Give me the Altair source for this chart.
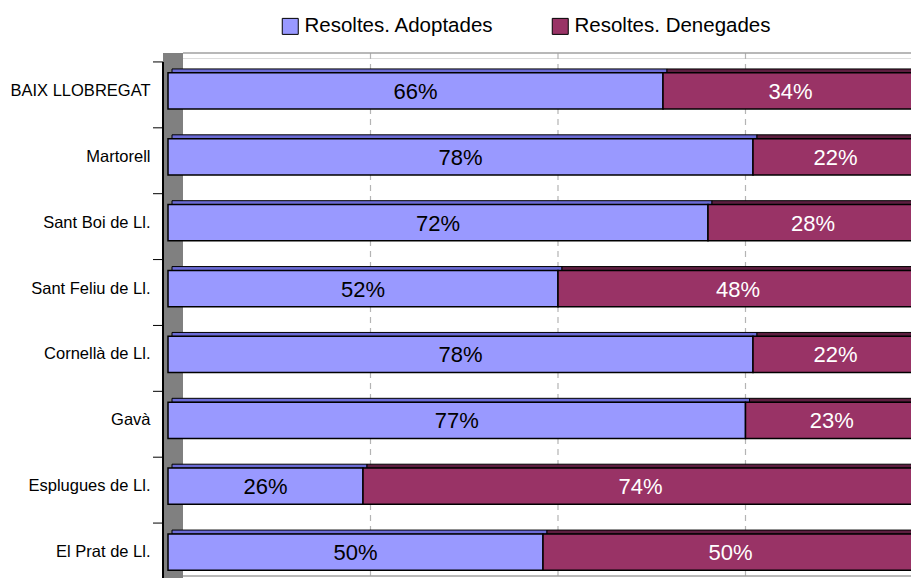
import altair as alt
import pandas as pd

regions = ["BAIX LLOBREGAT", "Martorell", "Sant Boi de Ll.", "Sant Feliu de Ll.",
           "Cornellà de Ll.", "Gavà", "Esplugues de Ll.", "El Prat de Ll."]
adoptades = [66, 78, 72, 52, 78, 77, 26, 50]
denegades = [34, 22, 28, 48, 22, 23, 74, 50]
series = ["Resoltes. Adoptades", "Resoltes. Denegades"]
colors = ["#9999FF", "#993366"]
top_colors = ["#6b6bd6", "#5e1e40"]
grid_values = [25, 50, 75]

rows = []
for r, a, d in zip(regions, adoptades, denegades):
    rows.append({"region": r, "series": series[0], "value": a, "ord": 0})
    rows.append({"region": r, "series": series[1], "value": d, "ord": 1})
df = pd.DataFrame(rows)

FONT = "Liberation Sans, Arial, Helvetica"

yscale = alt.Scale(domain=regions, range=[0, 527], paddingInner=0.45, paddingOuter=0.225)
xscale = alt.Scale(domain=[0, 100], range=[0, 750], nice=False, zero=True)
yaxis = alt.Axis(title=None, domain=False, ticks=False, labelPadding=18,
                 labelFont=FONT, labelFontSize=16.5, labelColor="black", labelLimit=300)


def Y():
    return alt.Y("region:N", scale=yscale, sort=regions, axis=yaxis)


base = alt.Chart(df).transform_stack(
    stack="value", groupby=["region"], as_=["x0", "x1"],
    sort=[alt.SortField("ord", order="ascending")]
).transform_calculate(
    mid="(datum.x0 + datum.x1) / 2",
    label="datum.value + '%'"
)

one = alt.Data(values=[{}])

wall = alt.Chart(one).mark_rect(color="#808080").encode(
    x=alt.value(-5), x2=alt.value(15), y=alt.value(-5), y2=alt.value(520)
)
wall_line = alt.Chart(one).mark_rule(color="black", strokeWidth=2).encode(
    x=alt.value(-5), y=alt.value(4), y2=alt.value(528)
)
top_line = alt.Chart(one).mark_rule(color="#a0a0a0", strokeWidth=1.5).encode(
    x=alt.value(15), x2=alt.value(760), y=alt.value(-5)
)
floor_line = alt.Chart(one).mark_rule(color="#a0a0a0", strokeWidth=1.5).encode(
    x=alt.value(15), x2=alt.value(760), y=alt.value(518)
)

grid = alt.Chart(pd.DataFrame({"g": grid_values})).mark_rule(
    color="#b4b4b4", strokeDash=[6, 5], strokeWidth=1.2, xOffset=15
).encode(
    x=alt.X("g:Q", scale=xscale, axis=None),
    y=alt.value(-5), y2=alt.value(518)
)

topface = base.mark_bar(size=4, yOffset=-20, xOffset=4, x2Offset=4,
                        stroke="black", strokeWidth=1).encode(
    y=Y(),
    x=alt.X("x0:Q", scale=xscale, axis=None),
    x2="x1:Q",
    fill=alt.condition(alt.datum.series == series[0],
                       alt.value(top_colors[0]), alt.value(top_colors[1]))
)

bars = base.mark_bar(stroke="black", strokeWidth=1.5).encode(
    y=Y(),
    x=alt.X("x0:Q", scale=xscale, axis=None),
    x2="x1:Q",
    color=alt.Color("series:N", scale=alt.Scale(domain=series, range=colors),
                    legend=alt.Legend(title=None, orient="none", legendX=112, legendY=-42,
                                      direction="horizontal", symbolType="square",
                                      symbolSize=256, symbolStrokeColor="black",
                                      symbolStrokeWidth=1, labelFontSize=20.5,
                                      labelFont=FONT, labelColor="black",
                                      labelOffset=4, columnPadding=56, padding=0,
                                      labelLimit=400, symbolOpacity=1))
)

text = base.mark_text(font=FONT, fontSize=22, baseline="middle", align="center", dy=1).encode(
    y=Y(),
    x=alt.X("mid:Q", scale=xscale, axis=None),
    text="label:N",
    fill=alt.condition(alt.datum.series == series[0], alt.value("black"), alt.value("white"))
)

ticks = alt.Chart(pd.DataFrame({"region": regions})).mark_rule(
    color="black", strokeWidth=1, yOffset=-29
).encode(
    y=Y(),
    x=alt.value(-15), x2=alt.value(-5)
)

chart = alt.layer(wall, grid, top_line, floor_line, topface, bars, text, ticks, wall_line).properties(
    width=743, height=520,
    autosize=alt.AutoSizeParams(type="none"),
    padding={"left": 160, "top": 50, "right": 0, "bottom": 0}
).configure_view(stroke=None).configure(background="white")

chart.save("out.html", embed_options={"renderer": "svg", "actions": False})
